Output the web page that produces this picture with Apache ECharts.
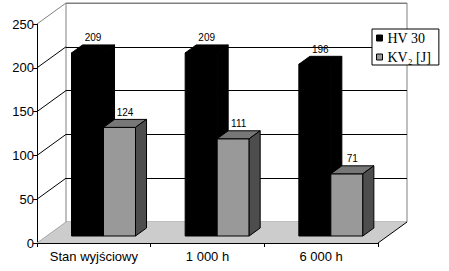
<!DOCTYPE html>
<html>
<head>
<meta charset="utf-8">
<script src="https://cdn.jsdelivr.net/npm/echarts@6.0.0/dist/echarts.min.js"></script>
<style>html,body{margin:0;padding:0;background:#fff}#c{width:449px;height:271px}</style>
</head>
<body>
<div id="c"></div>
<script>
// ---- data ----
const categories = ['Stan wyjściowy', '1 000 h', '6 000 h'];
const seriesNames = ['HV 30', 'KV₂ [J]'];
const hv30 = [209, 209, 196];
const kv2 = [124, 111, 71];
const yTicks = [0, 50, 100, 150, 200, 250];

// ---- 3D look (styles) ----
const DEPTH_X = 29, DEPTH_Y = -21;      // wall depth offset
const BAR_FRONT = 1 / 3;                 // bar front plane fraction of depth
const BAR_DEPTH = 0.38;                  // bar depth fraction
const BAR_FRAC = 0.2815;                 // bar width in band units
const FONT = '"Liberation Sans", Arial, sans-serif';

const chart = echarts.init(document.getElementById('c'), null, {renderer: 'svg'});

function barRenderer(side, front, top, sideCol) {
  return function (params, api) {
    const c = api.value(0), v = api.value(1);
    const p0 = api.coord([c, 0]);
    const p1 = api.coord([c, v]);
    const bw = api.size([1, 0])[0] * BAR_FRAC;
    const ox = DEPTH_X * BAR_FRONT, oy = DEPTH_Y * BAR_FRONT;
    const dx = DEPTH_X * BAR_DEPTH, dy = DEPTH_Y * BAR_DEPTH;
    const xl = p0[0] + ox + (side === 0 ? -bw : 0), xr = xl + bw;
    const yb = p0[1] + oy, yt = p1[1] + oy;
    const stroke = {stroke: '#000', lineWidth: 1};
    return {
      type: 'group',
      children: [
        {type: 'rect', shape: {x: xl, y: yt, width: bw, height: yb - yt},
          style: Object.assign({fill: front}, stroke)},
        {type: 'polygon', shape: {points: [[xl, yt], [xr, yt], [xr + dx, yt + dy], [xl + dx, yt + dy]]},
          style: Object.assign({fill: top}, stroke)},
        {type: 'polygon', shape: {points: [[xr, yt], [xr + dx, yt + dy], [xr + dx, yb + dy], [xr, yb]]},
          style: Object.assign({fill: sideCol}, stroke)},
        {type: 'text', x: xl + bw / 2 + dx / 2, y: yt + dy - 2,
          style: {text: String(v), fill: '#000', font: '10px ' + FONT, align: 'center', verticalAlign: 'bottom'}}
      ]
    };
  };
}

function frameRenderer(params, api) {
  const n = categories.length;
  const bandW = api.size([1, 0])[0];
  const c0 = api.coord([0, 0]), cN = api.coord([n - 1, 0]);
  const xL = c0[0] - bandW / 2, xR = cN[0] + bandW / 2, y0 = c0[1];
  const children = [];
  children.push({type: 'polygon', shape: {points: [[xL, y0], [xR, y0], [xR + DEPTH_X, y0 + DEPTH_Y], [xL + DEPTH_X, y0 + DEPTH_Y]]},
    style: {fill: '#cccccc', stroke: null}});
  children.push({type: 'line', shape: {x1: xR, y1: y0, x2: xR + DEPTH_X, y2: y0 + DEPTH_Y},
    style: {stroke: '#000', lineWidth: 1}});
  yTicks.forEach(function (t, i) {
    const py = api.coord([0, t])[1];
    const col = (i === 0) ? '#a8a8a8' : (i === yTicks.length - 1 ? '#808080' : '#000');
    children.push({type: 'line', shape: {x1: xL, y1: py, x2: xL + DEPTH_X, y2: py + DEPTH_Y},
      style: {stroke: col, lineWidth: 1}});
  });
  return {type: 'group', children: children};
}

const option = {
  animation: false,
  backgroundColor: '#fff',
  grid: [
    {left: 37, top: 24, width: 341, height: 219, containLabel: false},
    {left: 66, top: 3, width: 341, height: 219, show: true, borderColor: '#808080', borderWidth: 1,
      backgroundColor: 'transparent', containLabel: false}
  ],
  xAxis: [
    {type: 'category', gridIndex: 0, data: categories,
      axisLine: {show: true, lineStyle: {color: '#000', width: 1}},
      axisTick: {show: true, length: 4, lineStyle: {color: '#000'}},
      axisLabel: {color: '#000', fontSize: 13, fontFamily: FONT, margin: 7, interval: 0, hideOverlap: false}},
    {type: 'category', gridIndex: 1, data: categories, show: false}
  ],
  yAxis: [
    {type: 'value', gridIndex: 0, min: 0, max: 250, interval: 50,
      axisLine: {show: true, lineStyle: {color: '#000', width: 1}},
      axisTick: {show: true, length: 4, lineStyle: {color: '#000'}},
      axisLabel: {color: '#000', fontSize: 13, fontFamily: FONT, margin: 3},
      splitLine: {show: false}},
    {type: 'value', gridIndex: 1, min: 0, max: 250, interval: 50,
      axisLine: {show: false}, axisTick: {show: false}, axisLabel: {show: false},
      splitLine: {show: true, lineStyle: {color: ['#808080', '#000', '#000', '#000', '#000', '#808080'], width: 1}}}
  ],
  legend: {
    orient: 'vertical', left: 372, top: 29,
    padding: [2, 8, 1, 4], itemGap: 5, itemWidth: 6, itemHeight: 6,
    borderColor: '#000', borderWidth: 1, backgroundColor: '#fff',
    selectedMode: false,
    textStyle: {fontFamily: '"Liberation Serif", "Times New Roman", serif', fontSize: 14, color: '#000'},
    data: [
      {name: seriesNames[0], icon: 'rect', itemStyle: {color: '#000', borderColor: '#000', borderWidth: 1}},
      {name: seriesNames[1], icon: 'rect', itemStyle: {color: '#999999', borderColor: '#000', borderWidth: 1}}
    ]
  },
  series: [
    {type: 'custom', name: 'frame', xAxisIndex: 0, yAxisIndex: 0, z: 1, silent: true, clip: false,
      data: [[0, 0]], encode: {x: 0, y: 1}, renderItem: frameRenderer},
    {type: 'custom', name: seriesNames[0], xAxisIndex: 0, yAxisIndex: 0, z: 2, silent: true, clip: false,
      itemStyle: {color: '#000'},
      data: hv30.map(function (v, i) { return [i, v]; }), encode: {x: 0, y: 1},
      renderItem: barRenderer(0, '#000', '#000', '#000')},
    {type: 'custom', name: seriesNames[1], xAxisIndex: 0, yAxisIndex: 0, z: 3, silent: true, clip: false,
      itemStyle: {color: '#999999'},
      data: kv2.map(function (v, i) { return [i, v]; }), encode: {x: 0, y: 1},
      renderItem: barRenderer(1, '#999999', '#777777', '#4d4d4d')}
  ]
};
chart.setOption(option);
</script>
</body>
</html>
